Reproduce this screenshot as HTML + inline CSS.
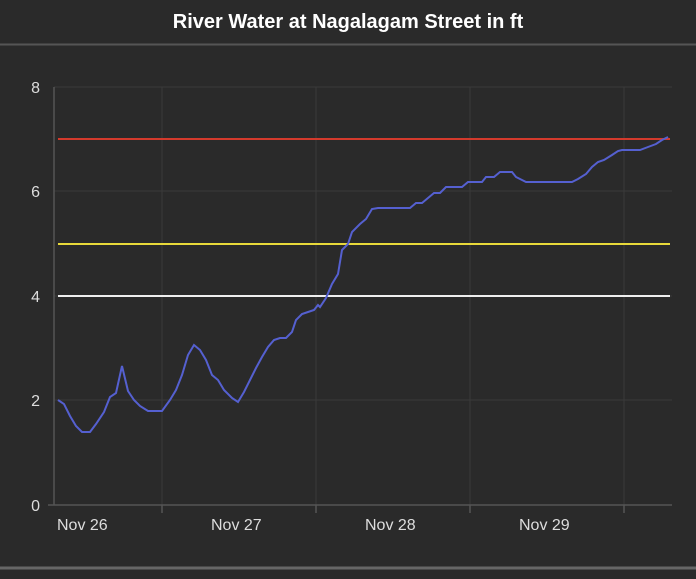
<!DOCTYPE html><html><head><style>body{margin:0;background:#2a2a2a;width:696px;height:574px;overflow:hidden;font-family:"Liberation Sans",sans-serif}</style></head><body>
<svg width="696" height="574" xmlns="http://www.w3.org/2000/svg">
<rect width="696" height="574" fill="#2a2a2a"/>
<text x="348" y="28" fill="#fff" font-size="20" font-weight="bold" text-anchor="middle">River Water at Nagalagam Street in ft</text>
<line x1="0" y1="44.5" x2="696" y2="44.5" stroke="#555" stroke-width="2"/>
<g stroke="#3a3a3a" stroke-width="1">
<line x1="54" y1="87" x2="672" y2="87"/><line x1="54" y1="191" x2="672" y2="191"/><line x1="54" y1="296" x2="672" y2="296"/><line x1="54" y1="400" x2="672" y2="400"/>
<line x1="162" y1="87" x2="162" y2="505"/><line x1="316" y1="87" x2="316" y2="505"/><line x1="470" y1="87" x2="470" y2="505"/><line x1="624" y1="87" x2="624" y2="505"/>
</g>
<g stroke="#555" stroke-width="1.5"><line x1="54" y1="87" x2="54" y2="505"/><line x1="48" y1="505" x2="672" y2="505"/>
<line x1="162" y1="505" x2="162" y2="513"/><line x1="316" y1="505" x2="316" y2="513"/><line x1="470" y1="505" x2="470" y2="513"/><line x1="624" y1="505" x2="624" y2="513"/></g>
<g fill="#ddd" font-size="16" text-anchor="end"><text x="40" y="93">8</text><text x="40" y="197">6</text><text x="40" y="302">4</text><text x="40" y="406">2</text><text x="40" y="511">0</text></g>
<g fill="#ddd" font-size="16"><text x="57" y="530">Nov 26</text><text x="211" y="530">Nov 27</text><text x="365" y="530">Nov 28</text><text x="519" y="530">Nov 29</text></g>
<line x1="58" y1="139" x2="670" y2="139" stroke="#d33a2c" stroke-width="2"/>
<line x1="58" y1="244" x2="670" y2="244" stroke="#e8d93a" stroke-width="2"/>
<line x1="58" y1="296" x2="670" y2="296" stroke="#eee" stroke-width="2"/>
<polyline fill="none" stroke="#5560d0" stroke-width="2" points="58,400 64,404 70,416 76,426 82,432 90,432 96,424 104,412 110,397 116,393 122,366 128,391 134,400 140,406 148,411 156,411 162,411 170,400 176,390 182,375 188,355 194,345 200,350 206,360 212,375 218,380 224,390 232,398 238,402 244,392 250,380 256,368 262,357 268,347 274,340 280,338 286,338 292,332 296,320 302,314 308,312 314,310 318,305 320,307 326,298 332,284 338,274 340,262 342,250 348,244 352,232 360,224 366,219 372,209 378,208 410,208 416,203 422,203 428,198 434,193 440,193 446,187 462,187 468,182 482,182 486,177 494,177 500,172 512,172 516,177 526,182 572,182 578,179 586,174 592,167 598,162 604,160 612,155 618,151 622,150 640,150 648,147 656,144 662,140 668,137"/>
<line x1="0" y1="568" x2="696" y2="568" stroke="#666" stroke-width="3"/>
</svg></body></html>
